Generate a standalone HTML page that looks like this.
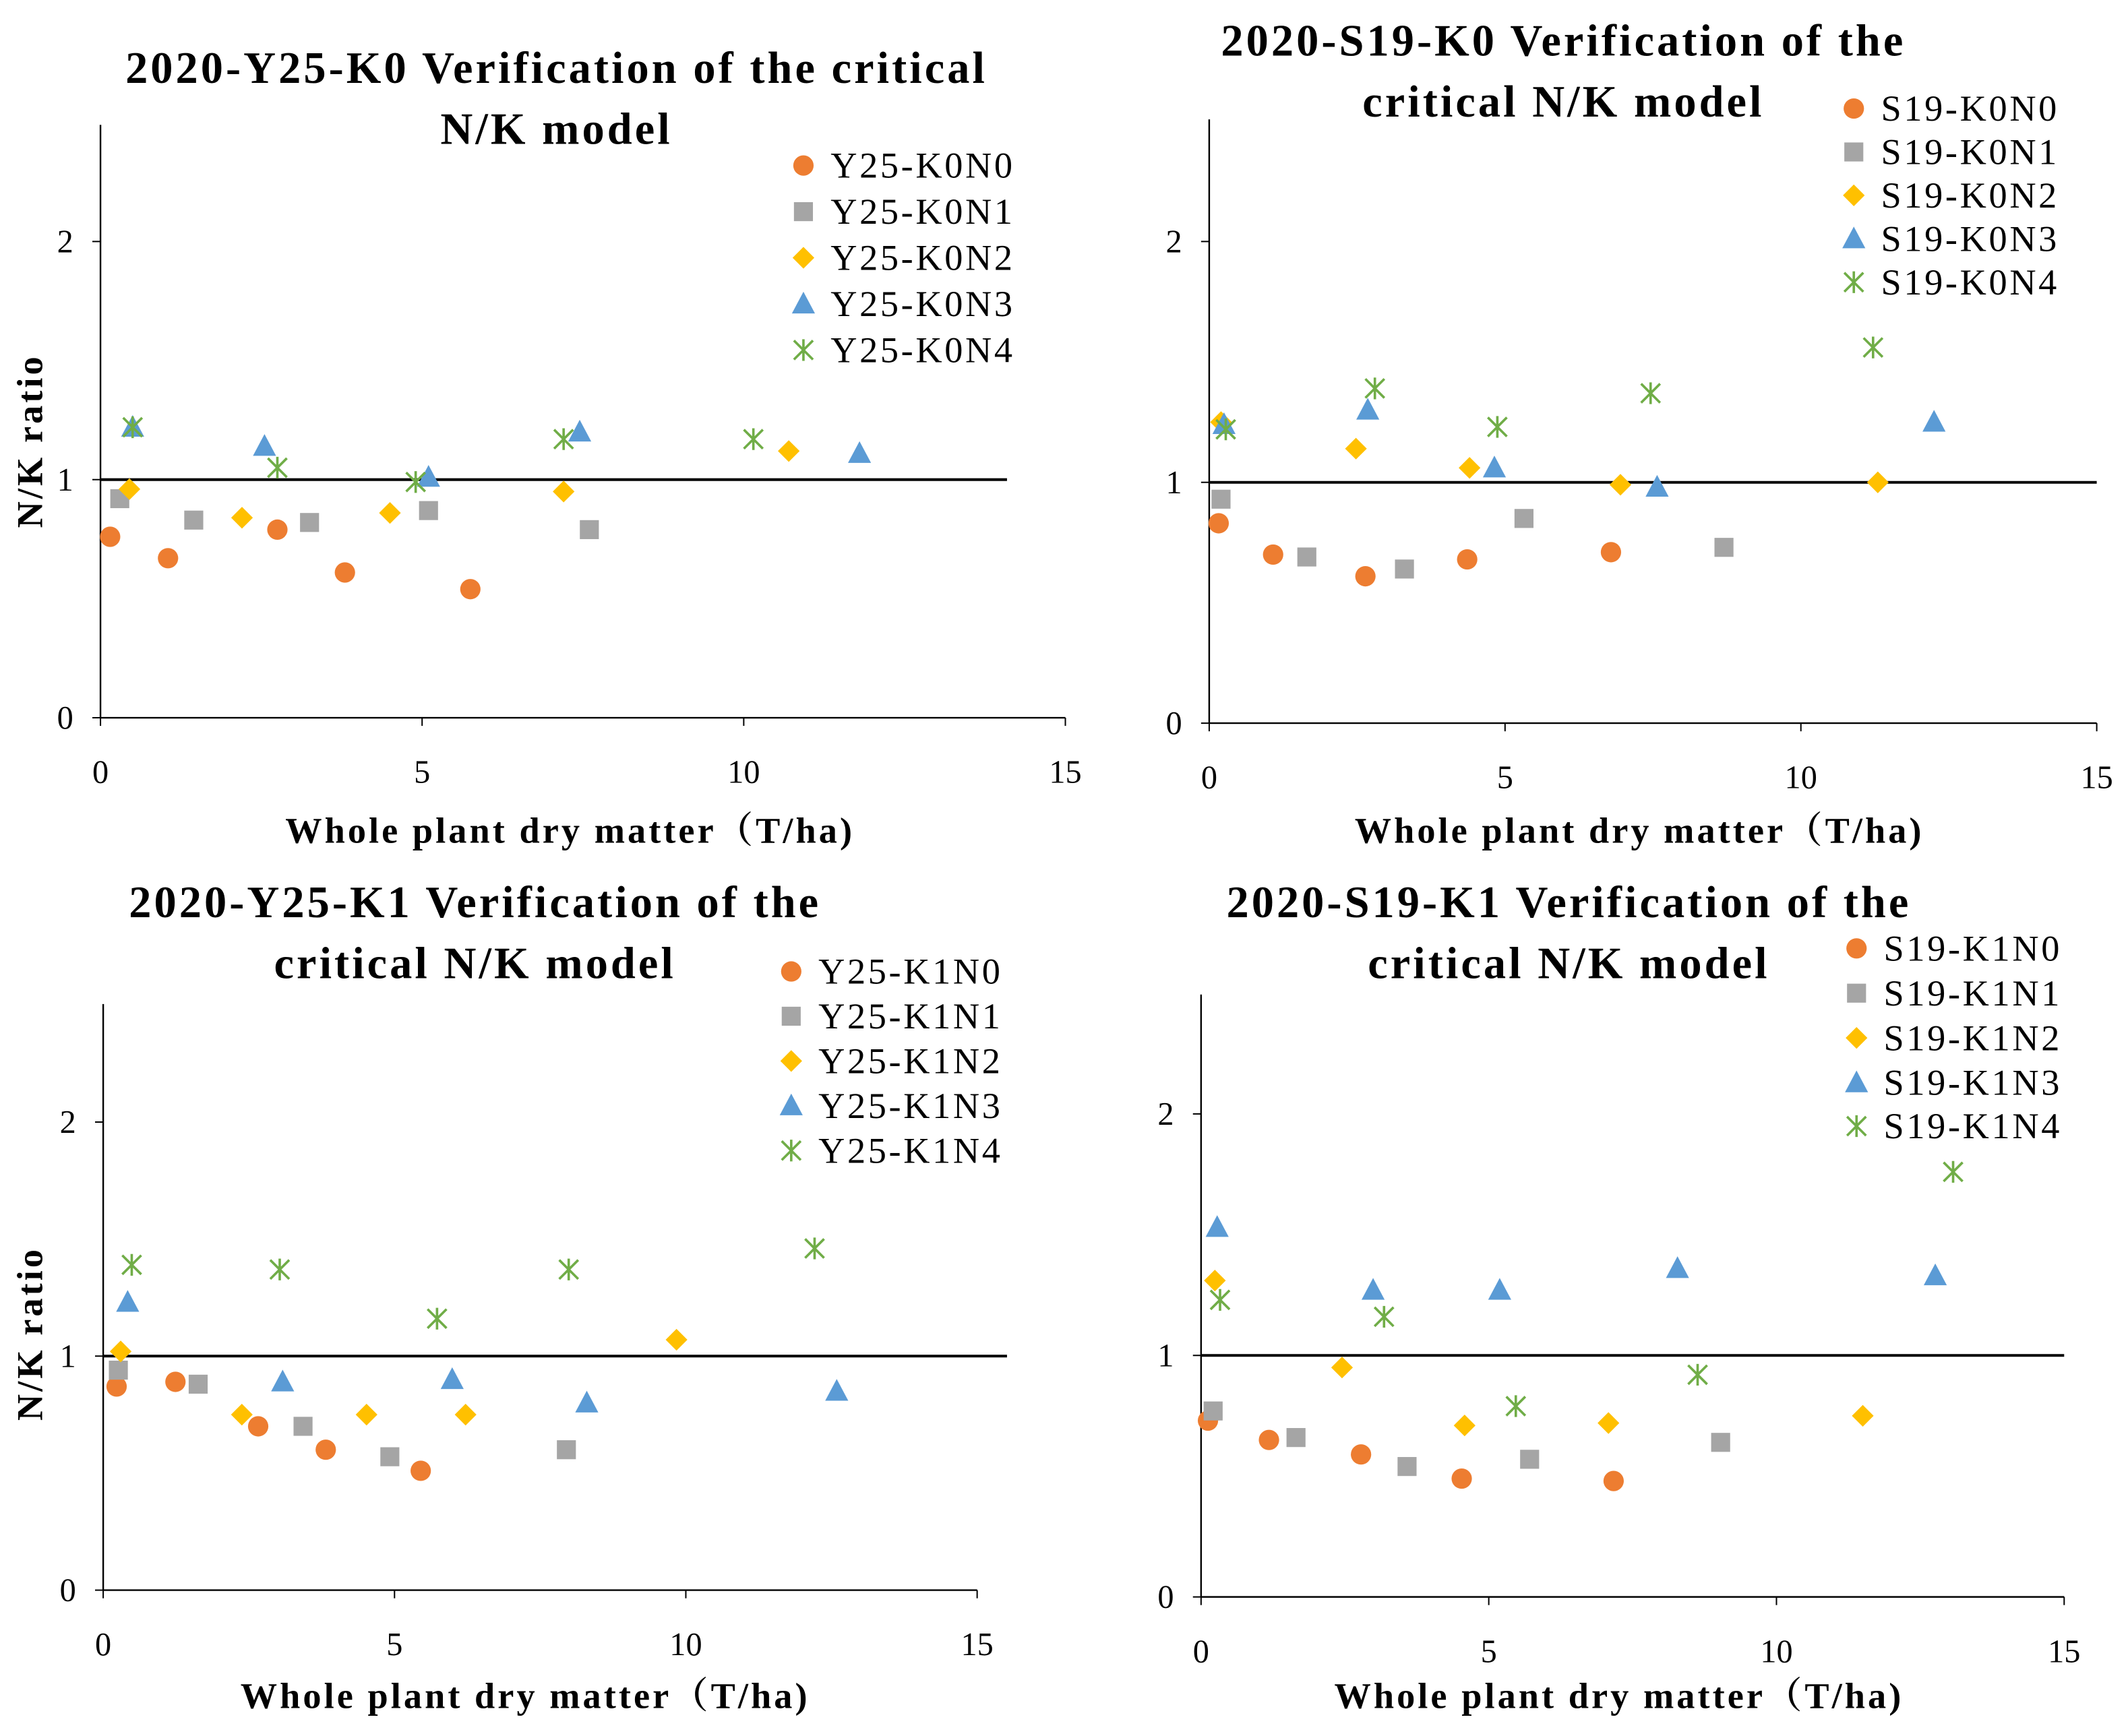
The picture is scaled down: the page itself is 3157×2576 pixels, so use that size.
<!DOCTYPE html>
<html><head><meta charset="utf-8"><style>
html,body{margin:0;padding:0;background:#fff}
svg{display:block}
text{font-family:"Liberation Serif","Noto Serif CJK SC",serif;fill:#000}
.t{font-weight:bold;font-size:33px;letter-spacing:2px}
.ax{font-weight:bold;font-size:27px;letter-spacing:2px}
.tk{font-size:24px}
.lg{font-size:27px;letter-spacing:1.8px}
</style></head><body>
<svg id="chart" width="3157" height="2576" viewBox="0 0 1568 1279.5" xmlns="http://www.w3.org/2000/svg"></svg>
<script>
const colors=["#ED7D31","#A5A5A5","#FFC000","#5B9BD5","#70AD47"];
const shapes=["circle","square","diamond","triangle","star"];
const xTicks=[0,5,10,15];
const yTicks=[0,1,2];
const tlNames=["Y25-K0N0","Y25-K0N1","Y25-K0N2","Y25-K0N3","Y25-K0N4"];
const tlData=[
[[0.15,0.76],[1.05,0.67],[2.75,0.79],[3.8,0.61],[5.75,0.54]],
[[0.3,0.92],[1.45,0.83],[3.25,0.82],[5.1,0.87],[7.6,0.79]],
[[0.45,0.96],[2.2,0.84],[4.5,0.86],[7.2,0.95],[10.7,1.12]],
[[0.5,1.22],[2.55,1.14],[5.1,1.01],[7.45,1.2],[11.8,1.11]],
[[0.5,1.22],[2.75,1.05],[4.9,0.99],[7.2,1.17],[10.15,1.17]]];
const trNames=["S19-K0N0","S19-K0N1","S19-K0N2","S19-K0N3","S19-K0N4"];
const trData=[
[[0.16,0.83],[1.08,0.7],[2.64,0.61],[4.36,0.68],[6.79,0.71]],
[[0.2,0.93],[1.65,0.69],[3.3,0.64],[5.32,0.85],[8.7,0.73]],
[[0.2,1.25],[2.48,1.14],[4.4,1.06],[6.95,0.99],[11.3,1.0]],
[[0.25,1.24],[2.68,1.3],[4.82,1.06],[7.57,0.98],[12.25,1.25]],
[[0.28,1.22],[2.8,1.39],[4.87,1.23],[7.46,1.37],[11.22,1.56]]];
const blNames=["Y25-K1N0","Y25-K1N1","Y25-K1N2","Y25-K1N3","Y25-K1N4"];
const blData=[
[[0.23,0.87],[1.24,0.89],[2.66,0.7],[3.82,0.6],[5.45,0.51]],
[[0.26,0.94],[1.63,0.88],[3.43,0.7],[4.92,0.57],[7.95,0.6]],
[[0.3,1.02],[2.38,0.75],[4.52,0.75],[6.22,0.75],[9.84,1.07]],
[[0.42,1.23],[3.08,0.89],[5.99,0.9],[8.3,0.8],[12.59,0.85]],
[[0.49,1.39],[3.03,1.37],[5.73,1.16],[7.99,1.37],[12.21,1.46]]];
const brNames=["S19-K1N0","S19-K1N1","S19-K1N2","S19-K1N3","S19-K1N4"];
const brData=[
[[0.12,0.73],[1.18,0.65],[2.78,0.59],[4.53,0.49],[7.17,0.48]],
[[0.21,0.77],[1.65,0.66],[3.58,0.54],[5.71,0.57],[9.03,0.64]],
[[0.24,1.31],[2.45,0.95],[4.58,0.71],[7.08,0.72],[11.5,0.75]],
[[0.28,1.53],[2.99,1.27],[5.19,1.27],[8.28,1.36],[12.76,1.33]],
[[0.33,1.23],[3.18,1.16],[5.47,0.79],[8.63,0.92],[13.07,1.76]]];

const panels=[
{id:"top-left",data:tlData,names:tlNames,x0:74,x15:785,y0:529,y2:178,top:92,refEnd:742,
 title:["2020-Y25-K0 Verification of the critical","N/K model"],tx:[410,410],ty:[61,106],
 lx:592,ly:[122,156,190,224,258],axX:420,axY:621,yl:true,ylY:325},
{id:"top-right",data:trData,names:trNames,x0:891,x15:1545,y0:533,y2:178,top:88,refEnd:1545,
 title:["2020-S19-K0 Verification of the","critical N/K model"],tx:[1152,1152],ty:[41,86],
 lx:1366,ly:[80,112,144,176,208],axX:1208,axY:621,yl:false},
{id:"bottom-left",data:blData,names:blNames,x0:76,x15:720,y0:1172,y2:827,top:740,refEnd:742,
 title:["2020-Y25-K1 Verification of the","critical N/K model"],tx:[350,350],ty:[676,721],
 lx:583,ly:[716,749,782,815,848],axX:387,axY:1259,yl:true,ylY:983},
{id:"bottom-right",data:brData,names:brNames,x0:885,x15:1521,y0:1177,y2:821,top:733,refEnd:1521,
 title:["2020-S19-K1 Verification of the","critical N/K model"],tx:[1156,1156],ty:[676,721],
 lx:1368,ly:[699,732,765,798,830],axX:1193,axY:1259,yl:false}];

const svg=document.getElementById('chart');
const NS="http://www.w3.org/2000/svg";
function el(tag,attrs,parent){const e=document.createElementNS(NS,tag);for(const k in attrs)e.setAttribute(k,attrs[k]);parent.appendChild(e);return e;}
function marker(shape,color,cx,cy,g){
 let m;const r=7.5;
 if(shape==="circle")m=el("circle",{cx:cx,cy:cy,r:r,fill:color},g);
 else if(shape==="square")m=el("rect",{x:cx-7,y:cy-7,width:14,height:14,fill:color},g);
 else if(shape==="diamond")m=el("polygon",{points:`${cx},${cy-8} ${cx+8},${cy} ${cx},${cy+8} ${cx-8},${cy}`,fill:color},g);
 else if(shape==="triangle")m=el("polygon",{points:`${cx},${cy-9} ${cx+8.5},${cy+7} ${cx-8.5},${cy+7}`,fill:color},g);
 else{m=el("path",{d:`M${cx-7},${cy-7}L${cx+7},${cy+7}M${cx-7},${cy+7}L${cx+7},${cy-7}M${cx},${cy-8}L${cx},${cy+8}`,stroke:color,"stroke-width":1.8,fill:"none"},g);}
 return m;
}
panels.forEach(p=>{
 const g=el("g",{},svg);
 
 
 const X=v=>p.x0+(p.x15-p.x0)*v/15;
 const Y=v=>p.y0-(p.y0-p.y2)*v/2;
 const ya=el("line",{x1:p.x0,y1:p.top,x2:p.x0,y2:p.y0,stroke:"#000","stroke-width":1.2},g);
 
 const xa=el("line",{x1:p.x0,y1:p.y0,x2:p.x15,y2:p.y0,stroke:"#000","stroke-width":1.2},g);
 
 xTicks.forEach(t=>{el("line",{x1:X(t),y1:p.y0,x2:X(t),y2:p.y0+6,stroke:"#000"},g);
  const tt=el("text",{x:X(t),y:p.y0+48,"text-anchor":"middle",class:"tk"},g);tt.textContent=t;
  });
 yTicks.forEach(t=>{el("line",{x1:p.x0-6,y1:Y(t),x2:p.x0,y2:Y(t),stroke:"#000"},g);
  const tt=el("text",{x:p.x0-20,y:Y(t)+8,"text-anchor":"end",class:"tk"},g);tt.textContent=t;
  });
 const ref=el("line",{x1:p.x0,y1:Y(1),x2:p.refEnd,y2:Y(1),stroke:"#000","stroke-width":2},g);
 
 p.title.forEach((s,i)=>{const t=el("text",{x:p.tx[i],y:p.ty[i],"text-anchor":"middle",class:"t"},g);t.textContent=s;
  });
 const ax=el("text",{x:p.axX,y:p.axY,"text-anchor":"middle",class:"ax"},g);ax.textContent="Whole plant dry matter（T/ha)";
 
 if(p.yl){const yt=el("text",{x:0,y:0,"text-anchor":"middle",class:"ax",transform:`translate(31,${p.ylY}) rotate(-90)`},g);yt.textContent="N/K ratio";
  }
 p.data.forEach((series,si)=>{
  series.forEach(pt=>{const m=marker(shapes[si],colors[si],X(pt[0]),Y(pt[1]),g);
   
   });
  const lg=el("g",{},g);
  
  
  marker(shapes[si],colors[si],p.lx,p.ly[si],lg);
  const lt=el("text",{x:p.lx+20,y:p.ly[si]+9,class:"lg"},lg);lt.textContent=p.names[si];
 });
});
</script>
</body></html>
